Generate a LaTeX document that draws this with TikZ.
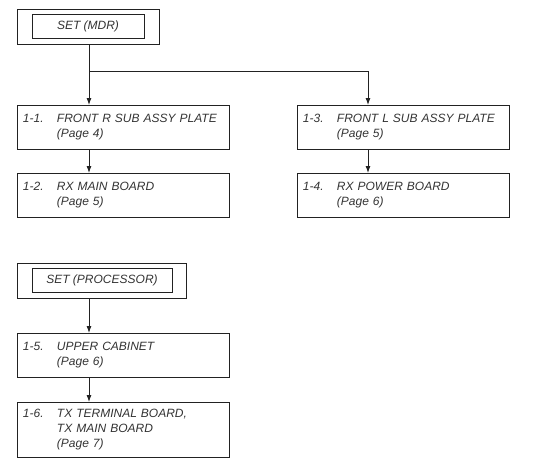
\documentclass[tikz,border=0pt]{standalone}
\usepackage{fontspec}
\setmainfont{Liberation Sans}
\usetikzlibrary{arrows.meta}
\definecolor{txt}{HTML}{333333}
\definecolor{ln}{HTML}{222222}
\newcommand{\lbl}[1]{\makebox[34pt][l]{#1}}
\newcommand{\ind}{\hspace*{34pt}}
\tikzset{
  box/.style={draw=ln, line width=0.9pt, anchor=north west, minimum width=212pt, minimum height=44pt,
    text width=201pt, inner xsep=5.5pt, align=left, text=txt, font=\fontsize{12}{15}\selectfont\itshape},
  setout/.style={draw=ln, line width=0.9pt, minimum height=35pt, inner sep=0pt},
  setin/.style={draw=ln, line width=0.9pt, minimum height=24pt, inner sep=0pt, text=txt, font=\fontsize{12}{15}\selectfont\itshape},
  arr/.style={draw=ln, line width=0.9pt, -{Latex[length=7pt,width=5pt]}},
  conn/.style={draw=ln, line width=0.9pt}
}
\begin{document}
\begin{tikzpicture}[x=1pt,y=-1pt]
\useasboundingbox (0,0) rectangle (538,466);
% SET (MDR)
\node[setout, minimum width=142pt] (setmdr) at (88,26.5) {};
\node[setin, minimum width=112pt] (setmdrin) at (88,26) {SET (MDR)};
% boxes top
\node[box] (b11) at (17,105) {\lbl{1-1.}FRONT R SUB ASSY PLATE\\\ind(Page 4)};
\node[box] (b12) at (17,173) {\lbl{1-2.}RX MAIN BOARD\\\ind(Page 5)};
\node[box] (b13) at (297,105) {\lbl{1-3.}FRONT L SUB ASSY PLATE\\\ind(Page 5)};
\node[box] (b14) at (297,173) {\lbl{1-4.}RX POWER BOARD\\\ind(Page 6)};
% SET (PROCESSOR)
\node[setout, minimum width=169pt] (setproc) at (101.5,280.5) {};
\node[setin, minimum width=140pt] (setprocin) at (102,280) {SET (PROCESSOR)};
\node[box] (b15) at (17,333) {\lbl{1-5.}UPPER CABINET\\\ind(Page 6)};
\node[box, minimum height=55pt] (b16) at (17,402) {\lbl{1-6.}TX TERMINAL BOARD,\\\ind TX MAIN BOARD\\\ind(Page 7)};
% connectors
\coordinate (lx) at ([xshift=72pt]b11.north west);
\coordinate (rx) at ([xshift=71pt]b13.north west);
\path (setmdr.south -| lx) ++(0,27) coordinate (br);
\draw[arr] (setmdr.south -| lx) -- (lx);
\draw[arr] (br) -| (rx);
\draw[arr] (lx |- b11.south) -- (lx |- b12.north);
\draw[arr] (rx |- b13.south) -- (rx |- b14.north);
\draw[arr] (setproc.south -| lx) -- (lx |- b15.north);
\draw[arr] (lx |- b15.south) -- (lx |- b16.north);
\end{tikzpicture}
\end{document}
